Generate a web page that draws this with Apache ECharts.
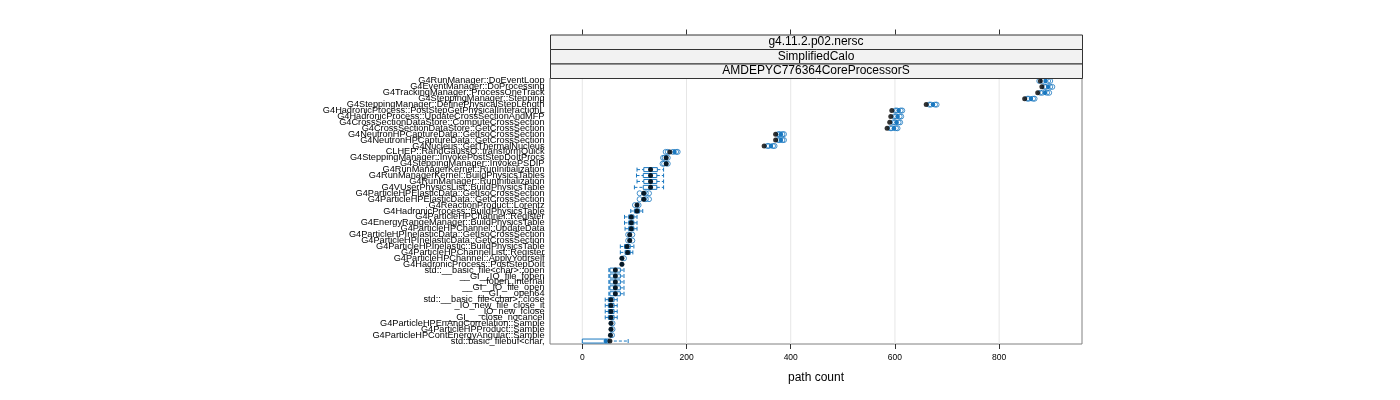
<!DOCTYPE html>
<html><head><meta charset="utf-8">
<script src="https://cdn.jsdelivr.net/npm/echarts@6/dist/echarts.min.js"></script>
<style>html,body{margin:0;padding:0;background:#fff}#c{width:1400px;height:400px}</style>
</head><body><div id="c"></div>
<script>
const categories = [
  'G4RunManager::DoEventLoop',
  'G4EventManager::DoProcessing',
  'G4TrackingManager::ProcessOneTrack',
  'G4SteppingManager::Stepping',
  'G4SteppingManager::DefinePhysicalStepLength',
  'G4HadronicProcess::PostStepGetPhysicalInteractionL',
  'G4HadronicProcess::UpdateCrossSectionAndMFP',
  'G4CrossSectionDataStore::ComputeCrossSection',
  'G4CrossSectionDataStore::GetCrossSection',
  'G4NeutronHPCaptureData::GetIsoCrossSection',
  'G4NeutronHPCaptureData::GetCrossSection',
  'G4Nucleus::GetThermalNucleus',
  'CLHEP::RandGaussQ::transformQuick',
  'G4SteppingManager::InvokePostStepDoItProcs',
  'G4SteppingManager::InvokePSDIP',
  'G4RunManagerKernel::RunInitialization',
  'G4RunManagerKernel::BuildPhysicsTables',
  'G4RunManager::RunInitialization',
  'G4VUserPhysicsList::BuildPhysicsTable',
  'G4ParticleHPElasticData::GetIsoCrossSection',
  'G4ParticleHPElasticData::GetCrossSection',
  'G4ReactionProduct::Lorentz',
  'G4HadronicProcess::BuildPhysicsTable',
  'G4ParticleHPChannel::Register',
  'G4EnergyRangeManager::BuildPhysicsTable',
  'G4ParticleHPChannel::UpdateData',
  'G4ParticleHPInelasticData::GetIsoCrossSection',
  'G4ParticleHPInelasticData::GetCrossSection',
  'G4ParticleHPInelastic::BuildPhysicsTable',
  'G4ParticleHPChannelList::Register',
  'G4ParticleHPChannel::ApplyYourself',
  'G4HadronicProcess::PostStepDoIt',
  'std::__basic_file<char>::open',
  '__GI__IO_file_fopen',
  '__fopen_internal',
  '__GI__IO_file_open',
  '__GI___open64',
  'std::__basic_file<char>::close',
  '_IO_new_file_close_it',
  '_IO_new_fclose',
  '__GI___close_nocancel',
  'G4ParticleHPEnAngCorrelation::Sample',
  'G4ParticleHPProduct::Sample',
  'G4ParticleHPContEnergyAngular::Sample',
  'std::basic_filebuf<char,'
];
// black dots
const dotValues = [879,882,874,849,660,594,592,590,585,371,371,349,168,161,161,
  131,131,131,131,118,118,105,105,94,94,94,91,91,86,87,76,76,
  63.5,63.5,63.5,63.5,63.5,55,55,55,55,55,55,54,53];
// blue box-and-whisker summaries
const whiskerLow  = [889,894,888,861,673,607,605,603,598,381,381,362,177,161,161,
  105,104,105,100,118,118,105,93,81,81,82,91,91,73,73,76,76,
  51,51,51,51,51,44,44,44,44,55,55,54,0];
const boxQ1       = [889,894,888,861,673,607,605,603,598,381,381,362,177,161,161,
  118,117,118,117,118,118,105,100,89,89,89,91,91,81,82,76,76,
  53,53,53,53,53,50,50,50,50,55,55,54,0];
const boxMedian   = [889,894,888,861,673,607,605,603,598,381,381,362,177,161,161,
  131,131,131,131,118,118,105,105,94,94,94,91,91,86,87,76,76,
  63,63,63,63,63,55,55,55,55,55,55,54,45];
const boxQ3       = [889,894,888,861,673,607,605,603,598,381,381,362,177,161,161,
  144,143,143,143,118,118,105,110,99,99,99,91,91,92,92,76,76,
  73,73,73,73,73,61,61,61,61,55,55,54,51];
const whiskerHigh = [889,894,888,861,673,607,605,603,598,381,381,362,177,161,161,
  156,156,156,156,118,118,105,116,105,105,105,91,91,99,97,76,76,
  80,80,80,80,80,67,67,67,67,55,55,54,88];
const outlierValues = [
  [877,884,894,898],[887,890,898,902],[879,883,892,896],[854,857,865,868],
  [666,669,677,680],[601,604,611,614],[599,602,609,612],[597,600,607,610],
  [591,594,602,605],[376,379,384,387],[376,379,384,387],[355,358,366,369],
  [160,164,174,180,183],[155,158,164],[154,157,164],
  [],[],[],[],[110,122,128],[110,122,128],[101,108],[],[],[],[],
  [88,96],[88,96],[],[],[80],[],
  [],[],[],[],[],[],[],[],[],[58],[58],[57],[]
];
const tickValues = [0,200,400,600,800];
const stripLabels = ['g4.11.2.p02.nersc','SimplifiedCalo','AMDEPYC776364CoreProcessorS'];
const axisTitle = 'path count';

const BLUE = '#1a78c0';
const FONT = 'Liberation Sans, Arial, sans-serif';
const G = {left:550, top:78, width:532, height:266};

const boxData = categories.map((c,i)=>[i, whiskerLow[i], boxQ1[i], boxMedian[i], boxQ3[i], whiskerHigh[i]]);
const outlierData = [];
outlierValues.forEach((arr,i)=>arr.forEach(v=>outlierData.push([v,i])));
const dotData = dotValues.map((v,i)=>[v,i]);

function renderBox(params, api){
  const i = api.value(0);
  const lo=api.value(1), q1=api.value(2), md=api.value(3), q3=api.value(4), hi=api.value(5);
  const X = v => api.coord([v, i])[0];
  const y = api.coord([q1, i])[1];
  const h = 2;
  const ch = [];
  const ls = {stroke:BLUE, lineWidth:1, lineDash:[3,2], fill:null};
  const ss = {stroke:BLUE, lineWidth:1, fill:null};
  if (q1 > lo) {
    ch.push({type:'line', shape:{x1:X(lo),y1:y,x2:X(q1),y2:y}, style:ls});
    ch.push({type:'line', shape:{x1:X(lo),y1:y-h,x2:X(lo),y2:y+h}, style:ss});
  }
  if (hi > q3) {
    ch.push({type:'line', shape:{x1:X(q3),y1:y,x2:X(hi),y2:y}, style:ls});
    ch.push({type:'line', shape:{x1:X(hi),y1:y-h,x2:X(hi),y2:y+h}, style:ss});
  }
  ch.push({type:'rect', shape:{x:X(q1), y:y-h, width:Math.max(0.5,X(q3)-X(q1)), height:2*h}, style:ss});
  ch.push({type:'circle', shape:{cx:X(md), cy:y, r:2.2}, style:{fill:BLUE}});
  return {type:'group', children:ch};
}
function renderGridLine(params, api){
  const cs = params.coordSys;
  const x = api.coord([api.value(0), 0])[0];
  return {type:'line', shape:{x1:x, y1:cs.y, x2:x, y2:cs.y+cs.height}, style:{stroke:'#e6e6e6', lineWidth:1}};
}

const graphics = [];
stripLabels.forEach((t,k)=>{
  graphics.push({type:'rect', left:G.left, top:34.5+k*14.5, shape:{x:0,y:0,width:G.width,height:14.5},
    style:{fill:'#f2f2f2', stroke:'#333', lineWidth:1}, z:10});
  graphics.push({type:'text', x:G.left+G.width/2, y:34.5+k*14.5+7.5,
    style:{text:t, font:'12px '+FONT, fill:'#000', textAlign:'center', textVerticalAlign:'middle'}, z:11});
});

const chart = echarts.init(document.getElementById('c'), null, {renderer:'canvas'});
chart.setOption({
  animation:false,
  backgroundColor:'#fff',
  grid:{left:G.left, top:G.top, width:G.width, height:G.height, show:true, borderColor:'#808080', borderWidth:1, containLabel:false},
  xAxis:[{
    type:'value', min:-62, max:959, position:'bottom',
    axisLine:{show:false}, splitLine:{show:false},
    axisTick:{show:true, length:5, customValues:tickValues, lineStyle:{color:'#333'}},
    axisLabel:{customValues:tickValues, fontSize:8.5, color:'#000', margin:9, fontFamily:FONT},
    name:axisTitle, nameLocation:'middle', nameGap:34,
    nameTextStyle:{fontSize:12, color:'#000', fontFamily:FONT, verticalAlign:'middle'}
  },{
    type:'value', min:-62, max:959, position:'top', offset:43.5,
    axisLine:{show:false}, splitLine:{show:false},
    axisTick:{show:true, length:5, customValues:tickValues, lineStyle:{color:'#333'}},
    axisLabel:{show:false}
  }],
  yAxis:{
    type:'category', data:categories, inverse:true,
    axisLine:{show:false}, axisTick:{show:false}, splitLine:{show:false},
    axisLabel:{interval:0, fontSize:9.2, color:'#000', margin:5.5, fontFamily:FONT}
  },
  graphic:graphics,
  series:[
    {type:'custom', name:'grid', xAxisIndex:0, data:tickValues.map(v=>[v,0]), encode:{x:0,y:1}, renderItem:renderGridLine, z:1, silent:true, clip:false},
    {type:'custom', name:'box', xAxisIndex:0, data:boxData, encode:{x:[1,2,3,4,5], y:0}, renderItem:renderBox, z:2},
    {type:'scatter', name:'outliers', xAxisIndex:0, data:outlierData, symbol:'circle', symbolSize:5,
      itemStyle:{color:'rgba(0,0,0,0)', borderColor:BLUE, borderWidth:1}, z:3},
    {type:'scatter', name:'dot', xAxisIndex:0, data:dotData, symbol:'circle', symbolSize:5, itemStyle:{color:'#000'}, z:4}
  ]
});
</script></body></html>
